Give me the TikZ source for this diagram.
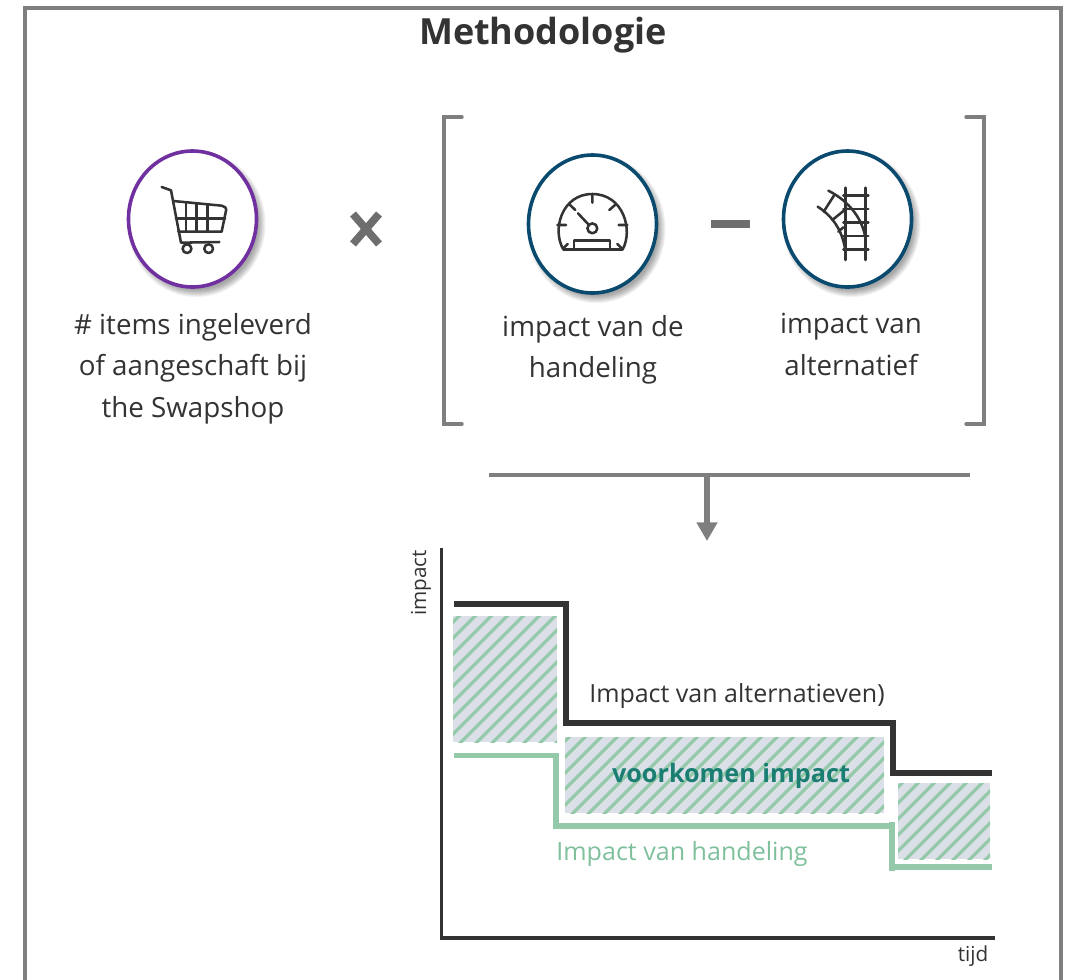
\documentclass[tikz,border=0pt]{standalone}
\usepackage{fontspec}
\setmainfont{Open Sans}
\usetikzlibrary{arrows.meta,shapes.geometric}
\definecolor{framegray}{HTML}{7F7F7F}
\definecolor{opgray}{HTML}{6E6E6E}
\definecolor{ink}{HTML}{333333}
\definecolor{purp}{HTML}{7030A0}
\definecolor{navy}{HTML}{0B4A6F}
\definecolor{hatchbg}{HTML}{DBDFE7}
\definecolor{hatchfg}{HTML}{94C9A9}
\definecolor{teal2}{HTML}{1A7F72}
\definecolor{greentxt}{HTML}{7FC09C}
\tikzset{
  x=0.75pt,y=-0.75pt,
  lbl/.style={font=\fontsize{20.8}{31}\selectfont,text=ink,align=center,inner sep=0pt},
  small/.style={font=\fontsize{15.5}{20}\selectfont,text=ink,inner sep=0pt},
  ic/.style={draw=ink,line width=1.9pt,line cap=round,line join=round},
  blk/.style={draw=ink,line width=4pt,line join=miter},
  grn/.style={draw=hatchfg,line width=4pt,line join=miter},
  brk/.style={draw=framegray,line width=2.6pt,line cap=round},
  disc/.style={ellipse,fill=white,line width=2.7pt,inner sep=0pt},
}
\newcommand{\softshadow}[4]{%
  \foreach \k in {0,...,7}{
    \fill[black,opacity=0.05] (#1+4,#2+5) ellipse [x radius={(#3+5-\k)*0.75pt},y radius={(#4+5-\k)*0.75pt}];
  }}
\newcommand{\hatchbox}[4]{% x0 y0 x1 y1
  \begin{scope}
    \clip (#1,#2) rectangle (#3,#4);
    \fill[hatchbg] (#1,#2) rectangle (#3,#4);
    \foreach \t in {0,16,...,640}{
      \draw[hatchfg,line width=2.4pt] (#1-160+\t,#4+40) -- ++(240,-240);
    }
  \end{scope}}
\begin{document}
\begin{tikzpicture}
\useasboundingbox (0,0) rectangle (1069,979);
% frame
\draw[framegray,line width=2.4pt] (25,985) -- (25,8) -- (1061,8) -- (1061,985);
\node[font=\fontsize{27}{32}\selectfont\bfseries,text=ink,inner sep=0pt] (title) at (543,35) {Methodologie};

% circles
\softshadow{192.5}{219}{64}{68}
\softshadow{592.5}{224}{64}{69}
\softshadow{847.5}{219}{64}{68}
\node[disc,draw=purp,minimum width=96pt,minimum height=102pt] (cart) at (192.5,219) {};
\node[disc,draw=navy,minimum width=96pt,minimum height=103.5pt] (gauge) at (592.5,224) {};
\node[disc,draw=navy,minimum width=96pt,minimum height=102pt] (track) at (847.5,219) {};

% cart icon
\begin{scope}[shift={(120,140)},x=0.25pt,y=-0.25pt]
  \draw[ic] (125,141) -- (153,151) -- (183,308) -- (298,306);
  \draw[ic] (160,183) -- (305,197) to[out=0,in=70] (318,212) -- (305,275) -- (175,275);
  \draw[ic] (168,235) -- (315,235);
  \draw[ic] (198,190) -- (198,275) (230,192) -- (230,275) (262,195) -- (262,275);
  \draw[ic] (201,326) circle [radius=3.3pt] (266,326) circle [radius=3.3pt];
\end{scope}
% speedometer icon
\begin{scope}[shift={(520,140)},x=0.25pt,y=-0.25pt]
  \draw[ic] (130,328) -- (308,328);
  \draw[ic] (130,328) .. controls (95,270) and (125,162) .. (217,162) .. controls (310,162) and (340,270) .. (308,328);
  \draw[ic] (217,265) circle [radius=3.7pt];
  \draw[ic] (174,220) -- (206,254);
  \draw[ic] (217,162) -- (217,188) (112,255) -- (138,255) (296,255) -- (322,255)
            (150,195) -- (166,210) (285,195) -- (268,210) (130,325) -- (143,312) (305,325) -- (292,312);
  \draw[ic] (162,328) -- (162,301) -- (270,301) -- (270,328);
\end{scope}
% track icon
\begin{scope}[shift={(775,140)},x=0.25pt,y=-0.25pt]
  \draw[ic] (212,143) -- (212,360) (271,143) -- (271,360);
  \foreach \yy in {167,207,248,288,328}{\draw[ic] (205,\yy) -- (280,\yy);}
  \draw[ic] (160,152) .. controls (225,185) and (265,240) .. (272,300);
  \draw[ic] (128,200) .. controls (175,230) and (205,275) .. (212,340);
  \draw[ic] (178,165) -- (146,215) (215,205) -- (172,240) (205,262) -- (190,275);
\end{scope}

% labels
\node[lbl] (items) at (193,368.5) {\# items ingeleverd\\of aangeschaft bij\\the Swapshop};
\node[lbl] (handeling) at (593,350) {impact van de\\handeling};
\node[lbl] (alternatief) at (851,344.5) {impact van\\alternatief};

% operators
\draw[opgray,line width=5.8pt] (353,214) -- (379,244) (379,214) -- (353,244);
\draw[opgray,line width=6.2pt] (711,224) -- (750,224);

% brackets
\draw[brk] (462,117) -- (444,117) -- (444,424) -- (462,424);
\draw[brk] (966,117) -- (984,117) -- (984,424) -- (966,424);

% result arrow
\coordinate (barL) at (489,475);
\coordinate (barR) at (970,475);
\coordinate (barM) at (707,475);
\coordinate (arrowEnd) at (707,541);
\draw[framegray,line width=2.4pt] (barL) -- (barR);
\draw[framegray,line width=4.5pt,-{Triangle[length=14pt,width=15pt]}] (barM) -- (arrowEnd);

% chart
\hatchbox{453}{616}{557}{742}
\hatchbox{565}{737}{884}{813}
\hatchbox{898}{783}{990}{859}
\draw[ink,line width=2.4pt] (441.5,548) -- (441.5,938) -- (995,938);
\draw[blk] (454,604) -- (566,604) -- (566,723) -- (893,723) -- (893,773) -- (992,773);
\draw[grn] (454,755.5) -- (556,755.5) -- (556,826) -- (892,826);
\draw[grn] (892,822) -- (892,871);
\draw[grn] (892,867) -- (992,867);
\node[small,rotate=90] (yl) at (421,583) {impact};
\node[small] (xl) at (973,956) {tijd};
\node[font=\fontsize{18.75}{22}\selectfont,text=ink,inner sep=0pt] (altl) at (737,695.5) {Impact van alternatieven)};
\node[font=\fontsize{18.8}{22}\selectfont,text=greentxt,inner sep=0pt] (hanl) at (682,853.5) {Impact van handeling};
\node[font=\fontsize{18.9}{22}\selectfont\bfseries,text=teal2,inner sep=0pt] (voor) at (731,776) {voorkomen impact};
\end{tikzpicture}
\end{document}
